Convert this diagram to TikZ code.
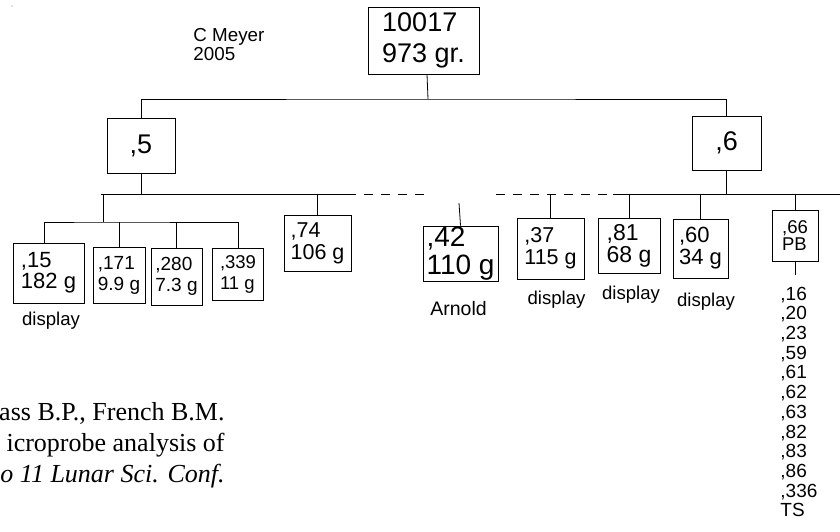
\documentclass[tikz,border=0pt]{standalone}
\usepackage{fontspec}
\setmainfont{Liberation Sans}
\newfontfamily\reffont{Liberation Serif}
\newcommand{\fsz}[2]{\fontsize{#1}{#2}\selectfont}

\begin{document}
\begin{tikzpicture}[x=1pt, y=-1pt, line width=0.8pt,
    sample/.style={draw, rectangle, align=left, inner sep=0pt},
    note/.style={anchor=base, inner sep=0pt, font=\fsz{18.6}{20}}]
    \useasboundingbox (0,0) rectangle (840,531);
    \clip (0,0) rectangle (840,531);
    \fill[gray] (12,6) circle (0.7);

    \node (Author) [anchor=north west, align=left, inner sep=0pt, font=\fsz{18.8}{19}] at (193,27.5) {C Meyer\\2005};

    \node (Root) [sample, minimum width=111, minimum height=67, font=\fsz{27}{31}] at (423.5,40.5) {10017\\973 gr.};
    \node (S5) [sample, minimum width=68, minimum height=55, font=\fsz{27}{31}] at (141,145.5) {,5};
    \node (S6) [sample, minimum width=69, minimum height=54, font=\fsz{27}{31}] at (726.5,143) {,6};

    \node (S15) [sample, minimum width=71, minimum height=60, font=\fsz{22}{21}] at (48.5,273) {,15\\182 g};
    \node (S171) [sample, minimum width=52, minimum height=56, font=\fsz{19}{21}] at (119,275) {,171\\9.9 g};
    \node (S280) [sample, minimum width=51, minimum height=57, font=\fsz{19}{21}] at (176.5,276.5) {,280\\7.3 g};
    \node (S339) [sample, minimum width=51, minimum height=52, font=\fsz{18.5}{21}] at (238,274.5) {,339\\11 g};
    \node (S74) [sample, minimum width=67, minimum height=56, font=\fsz{21.5}{22}] at (317.5,243) {,74\\106 g};
    \node (S42) [sample, minimum width=75, minimum height=55, font=\fsz{28}{28}] at (460.5,253.5) {,42\\110 g};
    \node (S37) [sample, minimum width=67, minimum height=61, font=\fsz{21.5}{22}] at (550.5,248.5) {,37\\115 g};
    \node (S81) [sample, minimum width=62, minimum height=55, font=\fsz{23}{22}] at (629,245.5) {,81\\68 g};
    \node (S60) [sample, minimum width=55, minimum height=59, font=\fsz{22}{22}] at (700.5,248.5) {,60\\34 g};
    \node (S66) [sample, minimum width=46, minimum height=51, font=\fsz{18.5}{17}] at (795,235.5) {,66\\PB};

    \node (Slices) [anchor=north west, align=left, inner sep=0pt, font=\fsz{19}{19.7}] at (780,286.5) {,16\\,20\\,23\\,59\\,61\\,62\\,63\\,82\\,83\\,86\\,336\\TS};

    \node (Disp15) [note] at (51,325) {display};
    \node (Arnold) [note, font=\fsz{19.5}{20}] at (458.5,315) {Arnold};
    \node (Disp37) [note] at (556.5,304) {display};
    \node (Disp81) [note] at (631,299) {display};
    \node (Disp60) [note] at (706,306) {display};

    \node (Ref) [anchor=north east, align=right, inner sep=0pt, font=\reffont\fsz{26}{31}] at (225,402) {ass B.P., French B.M.\\icroprobe analysis of\\\textit{o 11 Lunar Sci. Conf.}};

    \coordinate (TopBar) at (428,99);
    \coordinate (MidL) at (101,194);
    \coordinate (DashA) at (347,194);
    \coordinate (DashB) at (425,194);
    \coordinate (DashC) at (496,194);
    \coordinate (DashD) at (613,194);
    \coordinate (MidR) at (840,194);
    \coordinate (SubBar) at (103,222);
    \coordinate (ArnoldTop) at (459,203);
    \coordinate (SliceTop) at (795,275);

    \draw ([xshift=3.5pt]Root.south) -- (TopBar);
    \draw (S5.north) |- (TopBar) -| (S6.north);
    \draw (S5.south) -- (S5.south |- MidL);
    \draw (S6.south) -- (S6.south |- MidL);
    \draw (MidL) -- (DashA);
    \draw[dash pattern=on 9pt off 8pt] (DashA) -- (DashB);
    \draw[dash pattern=on 9pt off 8pt] (DashC) -- (DashD);
    \draw (DashD) -- (MidR);
    \draw (SubBar |- MidL) -- (SubBar);
    \draw ([xshift=-4.5pt]S15.north) |- (SubBar) -| (S339.north);
    \draw (S171.north) -- (S171.north |- SubBar);
    \draw (S280.north) -- (S280.north |- SubBar);
    \draw (S74.north) -- (S74.north |- MidL);
    \draw (S42.north) -- (ArnoldTop);
    \draw (S37.north) -- (S37.north |- MidL);
    \draw (S81.north) -- (S81.north |- MidL);
    \draw (S60.north) -- (S60.north |- MidL);
    \draw (S66.north) -- (S66.north |- MidL);
    \draw (S66.south) -- (SliceTop);
\end{tikzpicture}
\end{document}
